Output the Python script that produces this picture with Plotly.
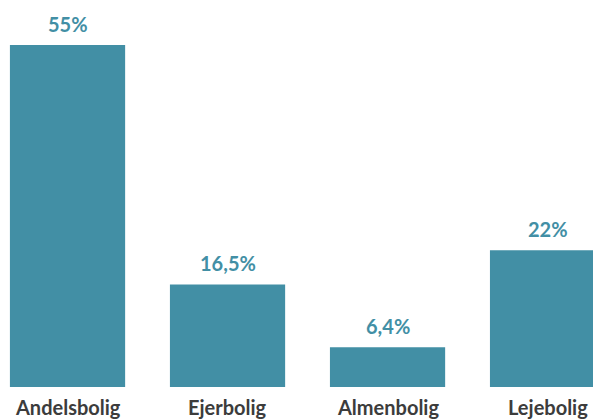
import plotly.graph_objects as go

categories = ["Andelsbolig", "Ejerbolig", "Almenbolig", "Lejebolig"]
shares = [55, 16.5, 6.4, 22]

BAR_COLOR = "#428fa5"
LABEL_COLOR = "#3c3c3c"
FONT = "Lato"

x = list(range(len(categories)))
value_text = [f"{v:g}".replace(".", ",") + "%" for v in shares]

fig = go.Figure(go.Bar(
    x=x, y=shares, width=0.72,
    marker_color=BAR_COLOR, marker_line_width=0,
    hoverinfo="skip",
))

# value labels above the bars
for xi, v, t in zip(x, shares, value_text):
    fig.add_annotation(x=xi, y=v, text=f"<b>{t}</b>", showarrow=False,
                       yanchor="bottom", yshift=7,
                       font=dict(family=FONT, size=20, color=BAR_COLOR))

# category names under the bars
for xi, c in zip(x, categories):
    fig.add_annotation(x=xi, y=0, yref="paper", text=f"<b>{c}</b>", showarrow=False,
                       yanchor="top", yshift=-6,
                       font=dict(family=FONT, size=20, color=LABEL_COLOR))

# page body keeps its 8px margin, so the figure is sized to the remaining area
fig.update_layout(
    width=593, height=411,
    margin=dict(l=0, r=0, t=0, b=32),
    plot_bgcolor="white", paper_bgcolor="white",
    showlegend=False,
    xaxis=dict(range=[-0.372, 3.334], visible=False, fixedrange=True),
    yaxis=dict(range=[0, 60.95], visible=False, fixedrange=True),
)

fig.write_html("out.html", config={"displayModeBar": False})
